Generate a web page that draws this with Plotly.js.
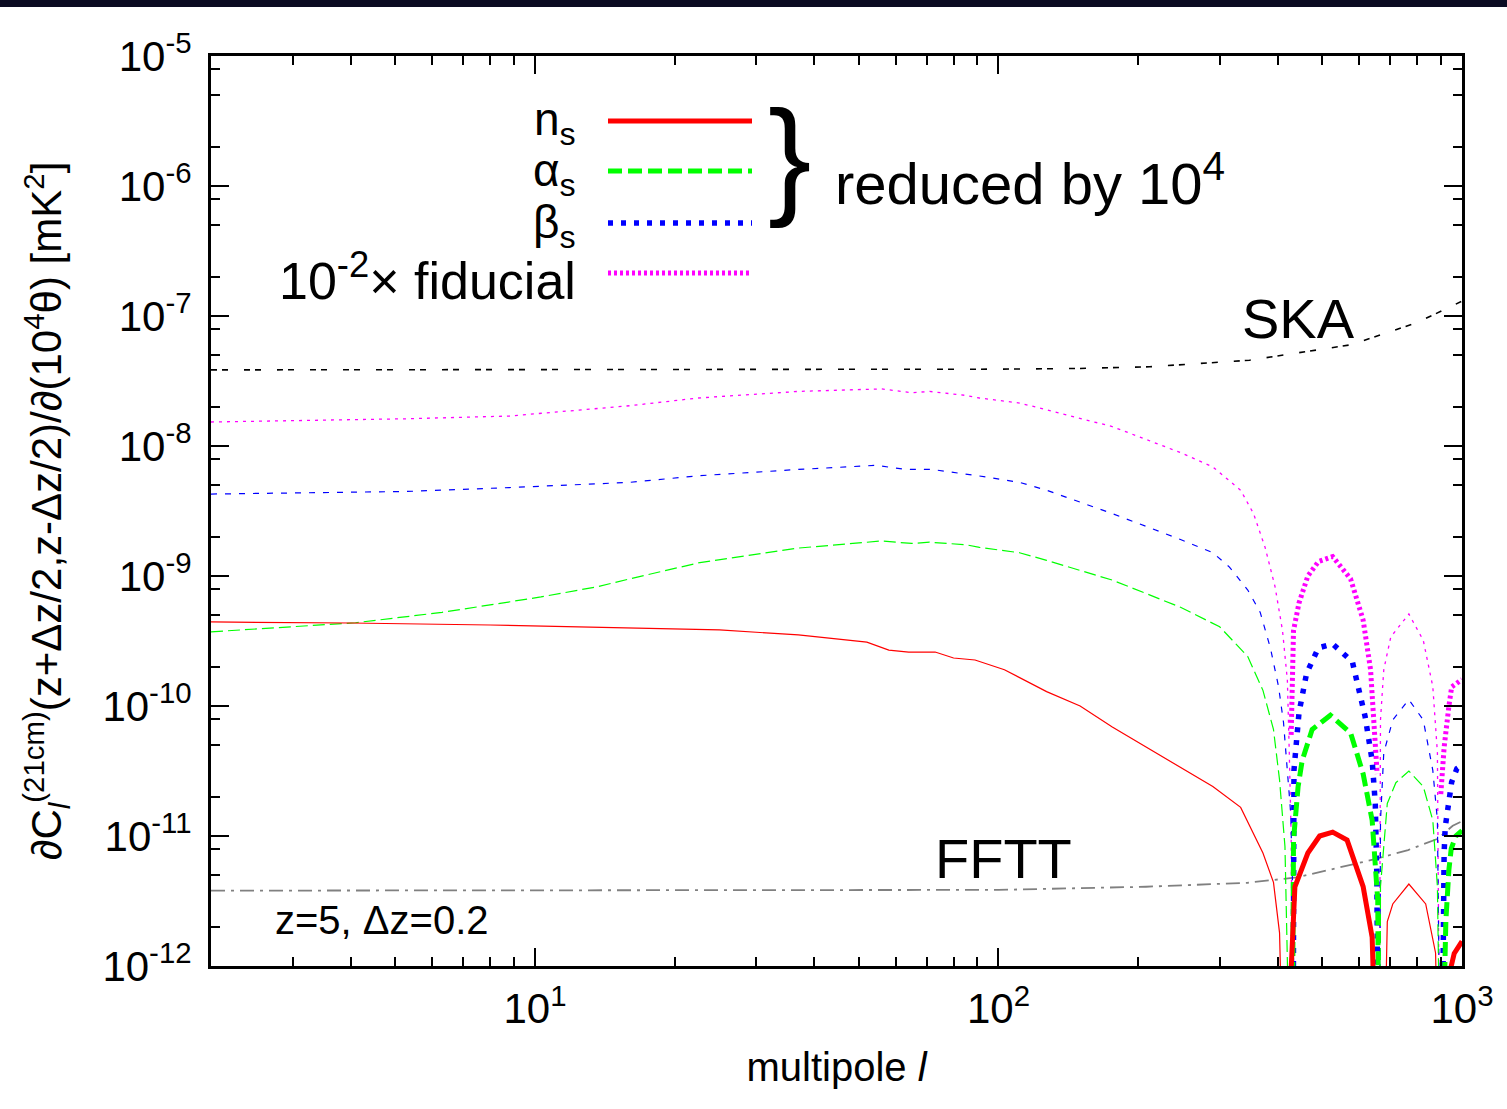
<!DOCTYPE html>
<html><head><meta charset="utf-8">
<script src="https://cdn.plot.ly/plotly-3.0.1.min.js"></script>
<style>html,body{margin:0;padding:0;background:#fff}#chart{width:1507px;height:1109px}</style>
</head><body><div id="chart"></div>
<script>
// ---------------- data ----------------
// multipole l, and |dC_l/d(10^4 theta)| ; thin = positive part, thick = negative part (absolute value)
// values below 1e-12 mean the curve leaves the bottom of the frame
const ell_ns_pos = [2, 4, 8, 16, 25, 37, 52, 58, 64, 73, 80, 89, 103, 127, 150, 176, 208, 247, 290, 333, 372, 392, 404, 412, null, 678, 690, 709, 768, 835, 877, 890];
const dcl_ns_pos = [4.43e-10, 4.35e-10, 4.2e-10, 3.98e-10, 3.85e-10, 3.52e-10, 3.1e-10, 2.69e-10, 2.6e-10, 2.6e-10, 2.34e-10, 2.26e-10, 1.9e-10, 1.29e-10, 1.0e-10, 6.9e-11, 4.84e-11, 3.39e-11, 2.4e-11, 1.66e-11, 7.4e-12, 4.4e-12, 1.8e-12, 1e-13, null, 1e-13, 2.2e-12, 3.0e-12, 4.27e-12, 3.0e-12, 1.26e-12, 1e-13];
const ell_ns_neg = [416, 428, 436, 465, 493, 526, 565, 612, 640, 655, null, 925, 948, 962, 1000];
const dcl_ns_neg = [1e-13, 1.26e-12, 4.07e-12, 7.4e-12, 1.0e-11, 1.07e-11, 9.3e-12, 4.07e-12, 1.66e-12, 1e-13, null, 1e-13, 1.0e-12, 1.25e-12, 1.55e-12];

const ell_as_pos = [2, 4.1, 6.3, 10.3, 13.7, 16, 22.5, 37, 56, 65, 71, 85, 91, 111, 127, 176, 247, 300, 345, 372, 392, 404, 415, 426, null, 665, 667, 690, 720, 768, 825, 865, 885, 898];
const dcl_as_pos = [3.72e-10, 4.37e-10, 5.25e-10, 6.9e-10, 8.3e-10, 9.5e-10, 1.26e-9, 1.64e-9, 1.86e-9, 1.78e-9, 1.82e-9, 1.74e-9, 1.66e-9, 1.51e-9, 1.32e-9, 9.3e-10, 5.75e-10, 4.07e-10, 2.4e-10, 1.32e-10, 6.6e-11, 2.7e-11, 8.3e-12, 1e-13, null, 1e-13, 4.07e-12, 1.78e-11, 2.57e-11, 3.16e-11, 2.4e-11, 1.32e-11, 4.07e-12, 1e-13];
const ell_as_neg = [430, 433, 443, 452, 475, 520, 575, 612, 640, 650, 658, 662, null, 905, 915, 923, 937, 948, 970, 1000];
const dcl_as_neg = [1e-13, 9.3e-12, 2.4e-11, 3.8e-11, 6.6e-11, 8.5e-11, 6.2e-11, 3.0e-11, 1.32e-11, 5.2e-12, 3.2e-12, 1e-13, null, 1e-13, 1.1e-12, 2.24e-12, 5.5e-12, 8.0e-12, 1.0e-11, 1.1e-11];

const ell_bs_pos = [2, 5.3, 8.8, 16, 22.5, 37, 54.5, 63, 72, 95, 111, 127, 176, 247, 290, 315, 345, 367, 386, 402, 412, 420, 427, 432, 436, null, 664, 667, 678, 709, 768, 825, 865, 885, 898];
const dcl_bs_pos = [4.27e-9, 4.47e-9, 4.79e-9, 5.25e-9, 5.9e-9, 6.6e-9, 7.1e-9, 6.6e-9, 6.6e-9, 5.75e-9, 5.25e-9, 4.57e-9, 3.02e-9, 1.91e-9, 1.51e-9, 1.17e-9, 7.8e-10, 5.25e-10, 2.8e-10, 1.41e-10, 7.5e-11, 3.0e-11, 1.5e-11, 3e-12, 1e-13, null, 1e-13, 1.3e-11, 4.37e-11, 7.8e-11, 1.12e-10, 7.8e-11, 3.2e-11, 1.32e-11, 1e-13];
const ell_bs_neg = [432, 434, 445, 462, 490, 526, 580, 618, 640, 650, 655, 660, null, 905, 911, 915, 920, 937, 950, 975, 1000];
const dcl_bs_neg = [1e-13, 3.2e-11, 8.9e-11, 1.78e-10, 2.8e-10, 3.0e-10, 2.19e-10, 8.3e-11, 3.8e-11, 1.78e-11, 5e-12, 1e-13, null, 1e-13, 3.4e-12, 7.4e-12, 1.17e-11, 2.0e-11, 2.6e-11, 3.3e-11, 3.5e-11];

const ell_fid_pos = [2, 5.3, 8.8, 16, 22.5, 37, 56, 65, 71, 85, 91, 111, 127, 176, 247, 290, 333, 355, 376, 395, 410, 420, 424, 428, 432, null, 663, 667, 678, 702, 768, 825, 865, 885, 895];
const dcl_fid_pos = [1.53e-8, 1.62e-8, 1.7e-8, 2.04e-8, 2.34e-8, 2.63e-8, 2.75e-8, 2.57e-8, 2.63e-8, 2.45e-8, 2.34e-8, 2.14e-8, 1.9e-8, 1.41e-8, 8.9e-9, 6.9e-9, 4.57e-9, 3.02e-9, 1.66e-9, 8.3e-10, 3.8e-10, 1.58e-10, 4.4e-11, 1e-11, 1e-13, null, 1e-13, 7.8e-11, 1.9e-10, 3.4e-10, 5.1e-10, 3.2e-10, 1.41e-10, 4.37e-11, 1e-13];
const ell_fid_neg = [428, 431, 433, 445, 465, 490, 526, 575, 612, 635, 650, 656, null, 900, 915, 937, 950, 1000];
const dcl_fid_neg = [6e-11, 1.9e-10, 3.8e-10, 6.2e-10, 1.0e-9, 1.29e-9, 1.41e-9, 9.5e-10, 4.57e-10, 1.9e-10, 5.75e-11, 3e-11, null, 2.1e-11, 4.8e-11, 1.0e-10, 1.4e-10, 1.6e-10];

// noise curves
const ell_ska = [2, 20, 100, 150, 212, 348, 575, 800, 1000];
const noise_ska = [3.85e-8, 3.85e-8, 3.9e-8, 3.95e-8, 4.07e-8, 4.57e-8, 6.0e-8, 8.9e-8, 1.3e-7];
const ell_fftt = [2, 100, 208, 345, 440, 645, 765, 885, 955, 1000];
const noise_fftt = [3.8e-12, 3.85e-12, 4.07e-12, 4.37e-12, 4.8e-12, 6.6e-12, 7.8e-12, 9.5e-12, 1.2e-11, 1.3e-11];

// axis ticks
const xTickVals = [10, 100, 1000];
const xTickText = ['10<sup>1</sup>', '10<sup>2</sup>', '10<sup>3</sup>'];
const yTickVals = [1e-12, 1e-11, 1e-10, 1e-9, 1e-8, 1e-7, 1e-6, 1e-5];
const yTickText = ['10<sup>-12</sup>', '10<sup>-11</sup>', '10<sup>-10</sup>', '10<sup>-9</sup>', '10<sup>-8</sup>', '10<sup>-7</sup>', '10<sup>-6</sup>', '10<sup>-5</sup>'];
const legendLabels = ['n<sub>s</sub>', 'α<sub>s</sub>', 'β<sub>s</sub>', '10<sup>-2</sup>× fiducial'];

// ---------------- styling ----------------
const FONT = 'Liberation Sans, Arial, Helvetica, sans-serif';
const RED = '#ff0000', GREEN = '#00ff00', BLUE = '#0000ff', MAG = '#ff00ff';
const thin = {ns: {color: RED, width: 1.2}, as: {color: GREEN, width: 1.2, dash: '12px,5px'},
              bs: {color: BLUE, width: 1.2, dash: '6px,8px'}, fid: {color: MAG, width: 1.3, dash: '3px,5px'}};
const thick = {ns: {color: RED, width: 5}, as: {color: GREEN, width: 5, dash: '14px,6px'},
               bs: {color: BLUE, width: 5.5, dash: '5px,8px'}, fid: {color: MAG, width: 5, dash: '3px,3px'}};

function tr(x, y, line) {
  return {x: x, y: y, type: 'scatter', mode: 'lines', line: line, connectgaps: false,
          showlegend: false, hoverinfo: 'skip'};
}
const traces = [
  tr(ell_ska, noise_ska, {color: '#000000', width: 1.6, dash: '6px,5px,6px,16px'}),
  tr(ell_fftt, noise_fftt, {color: '#808080', width: 1.8, dash: '14px,6px,3px,6px'}),
  tr(ell_fid_pos, dcl_fid_pos, thin.fid),
  tr(ell_bs_pos, dcl_bs_pos, thin.bs),
  tr(ell_as_pos, dcl_as_pos, thin.as),
  tr(ell_ns_pos, dcl_ns_pos, thin.ns),
  tr(ell_fid_neg, dcl_fid_neg, thick.fid),
  tr(ell_bs_neg, dcl_bs_neg, thick.bs),
  tr(ell_as_neg, dcl_as_neg, thick.as),
  tr(ell_ns_neg, dcl_ns_neg, thick.ns)
];

// pixel -> paper helpers for decorations (frame: x 211..1462, y 56..966)
const L = 211, R = 1462, T = 56, B = 966;
const px = v => (v - L) / (R - L);
const py = v => (B - v) / (B - T);

// minor ticks
const xMinor = [];
[1, 10, 100].forEach(d => { for (let k = 2; k <= 9; k++) { if (k * d >= 2) xMinor.push(k * d); } });
const yMinor = [];
for (let e = -12; e <= -6; e++) { [2, 5, 8].forEach(k => yMinor.push(k * Math.pow(10, e))); }

const legendKeys = ['ns', 'as', 'bs', 'fid'];
const legendY = [121, 171, 223, 273];
const legendTextY = [123, 173, 225, 277];
const legendSize = [46, 46, 46, 52];
const shapes = [
  {type: 'rect', xref: 'paper', yref: 'paper', x0: px(0), x1: px(1507), y0: py(0), y1: py(7),
   fillcolor: '#0b0b22', line: {width: 0}, layer: 'above'}
];
legendKeys.forEach((k, i) => {
  const st = thick[k];
  shapes.push({type: 'line', xref: 'paper', yref: 'paper', x0: px(608), x1: px(752),
               y0: py(legendY[i]), y1: py(legendY[i]),
               line: {color: st.color, width: st.width, dash: st.dash || 'solid'}, layer: 'above'});
});

const annotations = [];
legendLabels.forEach((t, i) => {
  annotations.push({xref: 'paper', yref: 'paper', x: px(578), y: py(legendTextY[i]), xanchor: 'right', yanchor: 'middle',
                    text: t, showarrow: false, font: {family: FONT, size: legendSize[i], color: '#000'}});
});
annotations.push(
  {xref: 'paper', yref: 'paper', x: px(766), y: py(156), xanchor: 'left', yanchor: 'middle', text: '}',
   showarrow: false, font: {family: FONT, size: 130, color: '#000'}},
  {xref: 'paper', yref: 'paper', x: px(833), y: py(180), xanchor: 'left', yanchor: 'middle', text: 'reduced by 10<sup>4</sup>',
   showarrow: false, font: {family: FONT, size: 58, color: '#000'}},
  {xref: 'paper', yref: 'paper', x: px(1240), y: py(318), xanchor: 'left', yanchor: 'middle', text: 'SKA',
   showarrow: false, font: {family: FONT, size: 56, color: '#000'}},
  {xref: 'paper', yref: 'paper', x: px(933), y: py(858), xanchor: 'left', yanchor: 'middle', text: 'FFTT',
   showarrow: false, font: {family: FONT, size: 56, color: '#000'}},
  {xref: 'paper', yref: 'paper', x: px(273), y: py(920), xanchor: 'left', yanchor: 'middle', text: 'z=5, Δz=0.2',
   showarrow: false, font: {family: FONT, size: 40, color: '#000'}}
);

const axisCommon = {
  type: 'log', showline: true, linewidth: 3, linecolor: '#000', mirror: 'allticks',
  ticks: 'inside', ticklen: 18, tickwidth: 2, tickcolor: '#000', showgrid: false, zeroline: false,
  tickfont: {family: FONT, size: 42, color: '#000'}, automargin: false,
  tickmode: 'array'
};
const layout = {
  width: 1507, height: 1109,
  margin: {l: L, r: 1507 - R, t: T, b: 1109 - B},
  paper_bgcolor: '#ffffff', plot_bgcolor: '#ffffff',
  showlegend: false,
  font: {family: FONT, color: '#000'},
  xaxis: Object.assign({}, axisCommon, {
    range: [Math.log10(2), 3], tickvals: xTickVals, ticktext: xTickText, ticklabelstandoff: 4,
    minor: {tickmode: 'array', tickvals: xMinor, ticks: 'inside', ticklen: 9, tickwidth: 2, tickcolor: '#000', showgrid: false},
    title: {text: 'multipole <i>l</i>', font: {family: FONT, size: 40, color: '#000'}, standoff: 22}
  }),
  yaxis: Object.assign({}, axisCommon, {
    range: [-12, -5], tickvals: yTickVals, ticktext: yTickText, ticklabelstandoff: 8,
    minor: {tickmode: 'array', tickvals: yMinor, ticks: 'inside', ticklen: 9, tickwidth: 2, tickcolor: '#000', showgrid: false},
    title: {text: '∂C<sub><i>l</i></sub><sup>(21cm)</sup>(z+Δz/2,z-Δz/2)/∂(10<sup>4</sup>θ) [mK<sup>2</sup>]',
            font: {family: FONT, size: 42, color: '#000'}, standoff: 28}
  }),
  shapes: shapes,
  annotations: annotations
};

Plotly.newPlot('chart', traces, layout, {staticPlot: true, displayModeBar: false});
</script></body></html>
